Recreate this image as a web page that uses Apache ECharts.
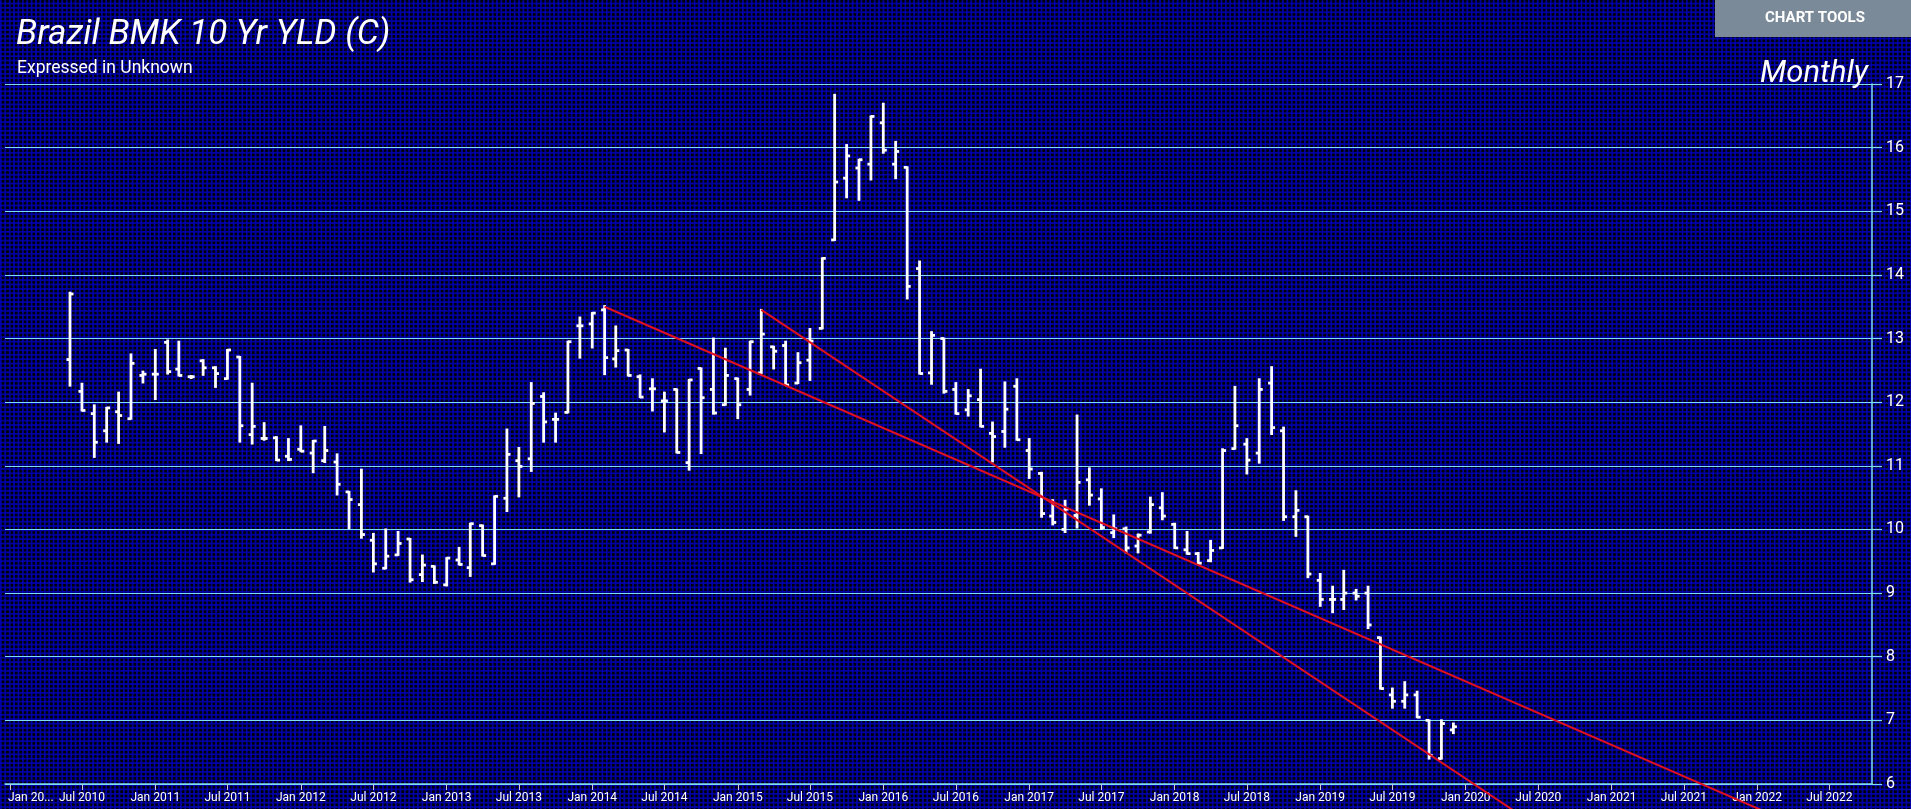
<!DOCTYPE html>
<html>
<head>
<meta charset="utf-8">
<script src="https://cdn.jsdelivr.net/npm/echarts@6/dist/echarts.min.js"></script>
<style>
html,body{margin:0;padding:0;width:1911px;height:809px;overflow:hidden;
background-color:#000008;
background-image:linear-gradient(90deg, rgba(0,0,180,0.85) 1.5px, transparent 1.5px),
linear-gradient(0deg, rgba(0,0,180,0.85) 1.5px, transparent 1.5px);
background-size:4.4px 4.4px;}
#chart{width:1911px;height:809px;}
</style>
</head>
<body>
<div id="chart"></div>
<script>
// ---- data (monthly OHLC, Brazil BMK 10 Yr yield) ----
const months = [
'2010-06','2010-07','2010-08','2010-09','2010-10','2010-11','2010-12',
'2011-01','2011-02','2011-03','2011-04','2011-05','2011-06','2011-07','2011-08','2011-09','2011-10','2011-11','2011-12',
'2012-01','2012-02','2012-03','2012-04','2012-05','2012-06','2012-07','2012-08','2012-09','2012-10','2012-11','2012-12',
'2013-01','2013-02','2013-03','2013-04','2013-05','2013-06','2013-07','2013-08','2013-09','2013-10','2013-11','2013-12',
'2014-01','2014-02','2014-03','2014-04','2014-05','2014-06','2014-07','2014-08','2014-09','2014-10','2014-11','2014-12',
'2015-01','2015-02','2015-03','2015-04','2015-05','2015-06','2015-07','2015-08','2015-09','2015-10','2015-11','2015-12',
'2016-01','2016-02','2016-03','2016-04','2016-05','2016-06','2016-07','2016-08','2016-09','2016-10','2016-11','2016-12',
'2017-01','2017-02','2017-03','2017-04','2017-05','2017-06','2017-07','2017-08','2017-09','2017-10','2017-11','2017-12',
'2018-01','2018-02','2018-03','2018-04','2018-05','2018-06','2018-07','2018-08','2018-09','2018-10','2018-11','2018-12',
'2019-01','2019-02','2019-03','2019-04','2019-05','2019-06','2019-07','2019-08','2019-09','2019-10','2019-11','2019-12'
];
const openVals = [
12.67,12.17,11.82,11.55,11.85,11.74,12.42,
12.44,12.94,12.52,12.40,12.65,12.54,12.37,12.71,11.49,11.43,11.44,11.15,
11.26,11.20,11.08,11.06,10.59,10.39,9.83,9.39,9.60,9.85,9.29,9.42,
9.13,9.52,9.40,10.06,9.46,10.49,11.08,11.11,12.09,11.73,11.84,13.20,
13.23,13.45,12.68,12.82,12.40,12.21,12.02,12.20,11.05,12.53,12.20,11.96,
12.37,12.20,12.46,12.87,12.89,12.30,12.66,13.16,14.55,15.52,15.68,15.74,
16.39,15.74,15.69,14.10,12.46,13.00,12.20,11.88,12.04,11.51,11.54,12.25,
11.24,10.88,10.21,10.00,10.22,10.78,10.48,9.95,10.01,9.74,9.96,10.34,
10.08,9.68,9.62,9.51,9.71,11.27,11.34,11.20,12.30,11.55,10.20,10.20,
9.20,8.90,8.90,9.00,9.00,8.30,7.40,7.30,7.40,7.00,6.40,6.85
];
const highVals = [
13.72,12.29,11.95,11.91,12.15,12.75,12.48,
12.82,12.97,12.95,12.41,12.66,12.55,12.82,12.71,12.29,11.67,11.45,11.42,
11.62,11.39,11.61,11.18,10.59,10.94,9.93,10.00,9.96,9.85,9.59,9.42,
9.55,9.71,10.09,10.06,10.52,11.57,11.28,12.30,12.14,11.82,12.95,13.33,
13.40,13.51,13.19,12.82,12.42,12.36,12.15,12.20,12.35,12.53,13.00,12.84,
12.37,12.95,13.45,12.87,12.95,12.77,13.15,14.26,16.83,16.04,15.81,16.49,
16.69,16.09,15.69,14.21,13.10,13.00,12.30,12.19,12.51,11.68,12.31,12.36,
11.42,10.89,10.46,10.45,11.79,10.96,10.63,10.22,10.03,9.92,10.50,10.57,
10.09,9.96,9.63,9.82,11.26,12.24,11.42,12.36,12.55,11.60,10.60,10.20,
9.30,9.10,9.35,9.05,9.10,8.30,7.50,7.60,7.45,7.00,7.00,6.95
];
const lowVals = [
12.26,11.87,11.14,11.38,11.36,11.74,12.31,
12.05,12.45,12.42,12.38,12.43,12.24,12.37,11.38,11.35,11.41,11.09,11.09,
11.23,10.90,11.06,10.55,10.02,9.87,9.34,9.39,9.60,9.18,9.19,9.16,
9.12,9.45,9.27,9.59,9.46,10.29,10.52,10.92,11.38,11.38,11.84,12.70,
12.86,12.44,12.56,12.42,12.08,11.87,11.54,11.21,10.94,11.20,11.82,11.96,
11.75,12.12,12.46,12.53,12.27,12.30,12.35,13.16,14.55,15.22,15.18,15.50,
15.92,15.52,13.63,12.45,12.29,12.15,11.82,11.79,11.62,11.07,11.30,11.41,
10.81,10.20,10.08,9.96,10.03,10.39,10.01,9.88,9.64,9.64,9.95,10.16,
9.71,9.62,9.46,9.50,9.71,11.27,10.88,11.05,11.50,10.15,9.90,9.25,
8.80,8.70,8.75,8.90,8.45,7.50,7.20,7.20,7.05,6.40,6.40,6.80
];
const closeVals = [
13.70,11.87,11.37,11.91,11.79,12.61,12.44,
12.44,12.48,12.42,12.40,12.54,12.45,12.82,11.63,11.62,11.43,11.09,11.10,
11.23,11.39,11.24,10.71,10.47,9.92,9.46,9.58,9.78,9.21,9.44,9.17,
9.55,9.45,10.09,9.59,10.52,11.18,10.99,11.98,11.69,11.73,12.95,13.20,
13.40,12.70,12.81,12.42,12.08,12.21,12.02,11.21,12.35,12.07,11.83,12.42,
11.96,12.95,13.07,12.80,12.27,12.62,12.96,14.26,15.46,15.87,15.81,16.49,
15.96,15.94,13.82,12.45,13.05,12.17,11.82,12.10,11.62,11.46,11.89,11.41,
10.95,10.25,10.11,10.32,10.74,10.54,10.03,10.01,9.71,9.91,10.39,10.21,
9.71,9.62,9.47,9.67,11.24,11.63,11.09,12.20,11.60,10.20,10.30,9.30,
8.90,8.90,9.00,8.95,8.50,7.50,7.30,7.40,7.05,6.45,6.95,6.90
];
// trend lines: [date, value] endpoints
const trend1 = [['2014-02-01', 13.5], ['2022-08-16', 5.0]];
const trend2 = [['2015-03-01', 13.45], ['2020-09-17', 5.0]];
const yTicks = {min: 6, max: 17, interval: 1};
const xRange = {min: '2009-12-20', max: '2022-10-16'};
const monthNames = ['Jan','Feb','Mar','Apr','May','Jun','Jul','Aug','Sep','Oct','Nov','Dec'];

const ohlc = months.map((m, i) => [m + '-01', openVals[i], highVals[i], lowVals[i], closeVals[i]]);

const chart = echarts.init(document.getElementById('chart'), null, {renderer: 'canvas'});
const DAY = 86400000;
const xMinTime = new Date(xRange.min + 'T00:00:00').getTime();
chart.setOption({
  backgroundColor: 'transparent',
  animation: false,
  title: [
    {text: 'Brazil BMK 10 Yr YLD (C)', left: 11, top: 13,
     textStyle: {color: '#fff', fontSize: 35, fontStyle: 'italic', fontWeight: 'normal', fontFamily: 'Roboto'}},
    {text: 'Expressed in Unknown', left: 12, top: 55,
     textStyle: {color: '#fff', fontSize: 17.5, fontWeight: 'normal', fontFamily: 'Roboto'}},
    {text: 'Monthly', right: 38, top: 54,
     textStyle: {color: '#fff', fontSize: 31, fontStyle: 'italic', fontWeight: 'normal', fontFamily: 'Roboto'}}
  ],
  graphic: [
    {type: 'rect', x: 1715, y: 0, shape: {width: 196, height: 37}, style: {fill: '#7b8a98'}, z: 10},
    {type: 'text', x: 1815, y: 18.5, z: 11,
     style: {text: 'CHART TOOLS', fill: '#fff', fontSize: 15, fontWeight: 'bold', fontFamily: 'Roboto',
             textAlign: 'center', textVerticalAlign: 'middle'}}
  ],
  grid: {left: 5, right: 39, top: 84, bottom: 25, containLabel: false, outerBoundsMode: 'none'},
  xAxis: {
    type: 'time',
    min: xRange.min, max: xRange.max,
    splitNumber: 26,
    minInterval: 170 * DAY, maxInterval: 190 * DAY,
    axisLine: {show: true, lineStyle: {color: '#7fdcf2', width: 1.5}},
    axisTick: {show: true, length: 6, lineStyle: {color: '#c8c8d0', width: 1}},
    splitLine: {show: false},
    axisLabel: {
      color: '#fff', fontSize: 12, fontFamily: 'Roboto', margin: 8, hideOverlap: false,
      rich: {first: {color: '#fff', fontSize: 12, fontFamily: 'Roboto', padding: [0, 0, 0, 42]}},
      formatter: function (val) {
        const d = new Date(val);
        const s = monthNames[d.getMonth()] + ' ' + d.getFullYear();
        if (val - xMinTime < 40 * DAY) return '{first|' + s.slice(0, 6) + '...}';
        return s;
      }
    }
  },
  yAxis: {
    type: 'value', position: 'right',
    min: yTicks.min, max: yTicks.max, interval: yTicks.interval,
    axisLine: {show: true, lineStyle: {color: '#7fdcf2', width: 1.5}},
    axisTick: {show: true, length: 10, lineStyle: {color: '#7fdcf2', width: 1.2}},
    splitLine: {show: true, lineStyle: {color: '#7fdcf2', width: 1.2}},
    axisLabel: {color: '#fff', fontSize: 16, fontFamily: 'Roboto', margin: 14}
  },
  series: [
    {
      type: 'custom', name: 'OHLC', data: ohlc,
      encode: {x: 0, y: [1, 2, 3, 4]},
      renderItem: function (params, api) {
        const x = api.value(0);
        const ph = api.coord([x, api.value(2)]);
        const pl = api.coord([x, api.value(3)]);
        const po = api.coord([x, api.value(1)]);
        const pc = api.coord([x, api.value(4)]);
        const st = {stroke: '#ffffff', lineWidth: 2.8};
        return {type: 'group', children: [
          {type: 'line', shape: {x1: ph[0], y1: ph[1] - 1, x2: pl[0], y2: pl[1] + 1}, style: st},
          {type: 'line', shape: {x1: po[0] - 3.5, y1: po[1], x2: po[0], y2: po[1]}, style: st},
          {type: 'line', shape: {x1: pc[0], y1: pc[1], x2: pc[0] + 3.5, y2: pc[1]}, style: st}
        ]};
      },
      z: 3
    },
    {type: 'line', data: trend1, clip: false, symbol: 'none', silent: true,
     lineStyle: {color: '#e01020', width: 2}, z: 4},
    {type: 'line', data: trend2, clip: false, symbol: 'none', silent: true,
     lineStyle: {color: '#e01020', width: 2}, z: 4}
  ]
});
</script>
</body>
</html>
